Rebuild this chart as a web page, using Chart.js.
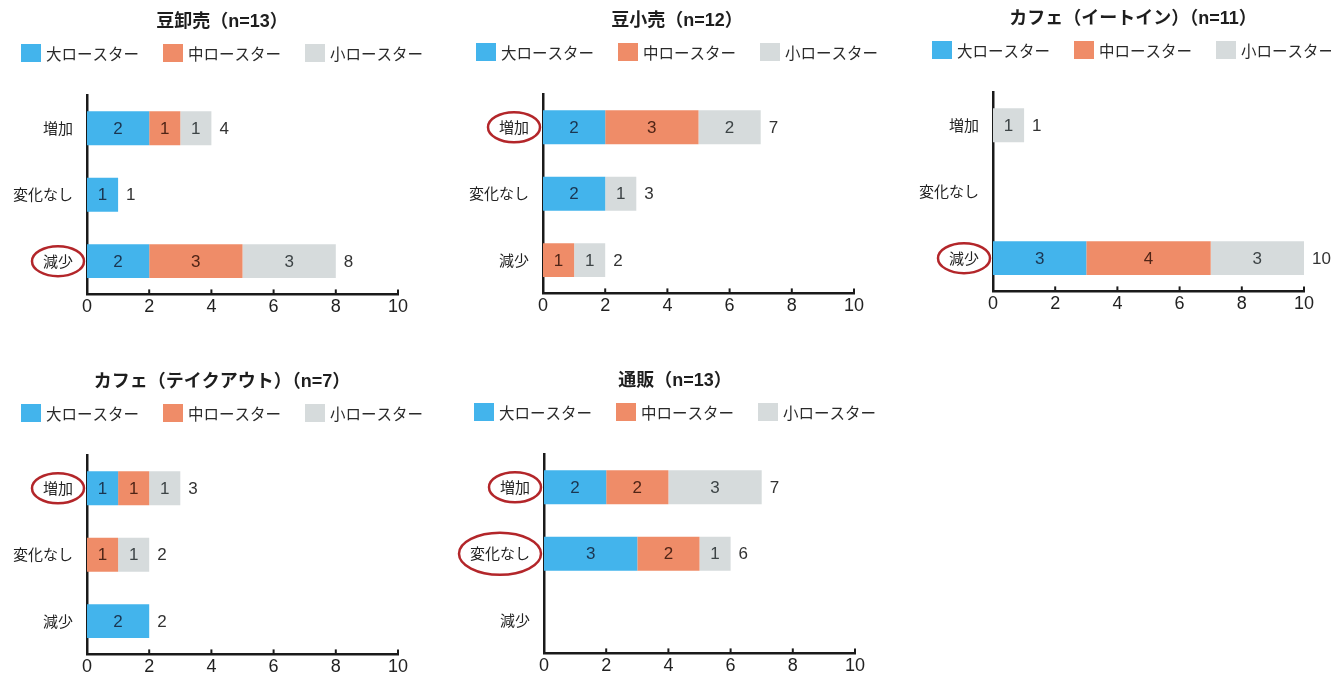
<!DOCTYPE html>
<html lang="ja">
<head>
<meta charset="utf-8">
<title>ロースター規模別の動向</title>
<script src="https://cdn.jsdelivr.net/npm/chart.js@4.4.1/dist/chart.umd.min.js"></script>
<style>
  html, body { margin: 0; padding: 0; background: #ffffff; overflow: hidden; }
  body { width: 1331px; height: 678px; position: relative; }
  canvas { position: absolute; }
</style>
</head>
<body>
<script>
// Categories, series and axis ticks
const categories = ['増加', '変化なし', '減少'];
const seriesNames = ['大ロースター', '中ロースター', '小ロースター'];
const xTicks = [0, 2, 4, 6, 8, 10];

// 豆卸売 (n=13)
const wholesaleLarge = [2, 1, 2];
const wholesaleMedium = [1, 0, 3];
const wholesaleSmall = [1, 0, 3];

// 豆小売 (n=12)
const retailLarge = [2, 2, 0];
const retailMedium = [3, 0, 1];
const retailSmall = [2, 1, 1];

// カフェ イートイン (n=11)
const eatInLarge = [0, 0, 3];
const eatInMedium = [0, 0, 4];
const eatInSmall = [1, 0, 3];

// カフェ テイクアウト (n=7)
const takeoutLarge = [1, 0, 2];
const takeoutMedium = [1, 1, 0];
const takeoutSmall = [1, 1, 0];

// 通販 (n=13)
const mailOrderLarge = [2, 3, 0];
const mailOrderMedium = [2, 2, 0];
const mailOrderSmall = [3, 1, 0];

const panelTitles = [
  '豆卸売（n=13）',
  '豆小売（n=12）',
  'カフェ（イートイン）（n=11）',
  'カフェ（テイクアウト）（n=7）',
  '通販（n=13）'
];
const circledLabels = [['減少'], ['増加'], ['減少'], ['増加'], ['増加', '変化なし']];

// Styling
const seriesColors = ['#43b4ec', '#ef8c68', '#d6dbdc'];
const valueColors = ['#1b3550', '#4f2416', '#3d4446'];
const JP = "'Noto Sans CJK JP', sans-serif";
const NUM = "'Liberation Sans', 'Noto Sans CJK JP', sans-serif";

// Panel placement on the page
const panels = [
  { large: wholesaleLarge, medium: wholesaleMedium, small: wholesaleSmall, left: 0,   top: 2,   width: 444, cx: 222 },
  { large: retailLarge,    medium: retailMedium,    small: retailSmall,    left: 456, top: 1,   width: 444, cx: 221 },
  { large: eatInLarge,     medium: eatInMedium,     small: eatInSmall,     left: 906, top: -1,  width: 425, cx: 227 },
  { large: takeoutLarge,   medium: takeoutMedium,   small: takeoutSmall,   left: 0,   top: 362, width: 444, cx: 222 },
  { large: mailOrderLarge, medium: mailOrderMedium, small: mailOrderSmall, left: 457, top: 361, width: 444, cx: 218 }
];

const AXIS_LEFT = 87;
const AXIS_RIGHT = 398;
const TITLE_Y = 20;
const LEGEND_Y = 51;

// Title and legend drawn above the plot area
const headerPlugin = {
  id: 'header',
  afterDraw(chart, args, opts) {
    const ctx = chart.ctx;
    ctx.save();
    ctx.fillStyle = '#1e1e1e';
    ctx.font = 'bold 18px ' + NUM;
    ctx.textAlign = 'center';
    ctx.textBaseline = 'middle';
    ctx.fillText(opts.title, opts.cx, TITLE_Y);

    ctx.font = '15.5px ' + JP;
    ctx.textAlign = 'left';
    const boxW = 20, boxH = 18, boxGap = 5, itemGap = 24;
    const items = chart.data.datasets.map(ds => ({
      label: ds.label, color: ds.backgroundColor, w: ctx.measureText(ds.label).width
    }));
    const total = items.reduce((s, it) => s + boxW + boxGap + it.w, 0) + itemGap * (items.length - 1);
    let x = opts.cx - total / 2;
    items.forEach(it => {
      ctx.fillStyle = it.color;
      ctx.fillRect(x, LEGEND_Y - boxH / 2, boxW, boxH);
      ctx.fillStyle = '#2a2a2a';
      ctx.fillText(it.label, x + boxW + boxGap, LEGEND_Y + 1);
      x += boxW + boxGap + it.w + itemGap;
    });
    ctx.restore();
  }
};

// Segment values, row totals, upward tick marks and circled category labels
const annotatePlugin = {
  id: 'annotate',
  afterDatasetsDraw(chart, args, opts) {
    const ctx = chart.ctx;
    const xs = chart.scales.x, ys = chart.scales.y;
    ctx.save();
    ctx.textBaseline = 'middle';

    chart.data.datasets.forEach((ds, di) => {
      const meta = chart.getDatasetMeta(di);
      meta.data.forEach((bar, i) => {
        const v = ds.data[i];
        if (!v) return;
        ctx.font = '17px ' + NUM;
        ctx.textAlign = 'center';
        ctx.fillStyle = valueColors[di];
        ctx.fillText(String(v), (bar.x + bar.base) / 2, bar.y + 1);
      });
    });

    categories.forEach((c, i) => {
      const sum = chart.data.datasets.reduce((s, ds) => s + (ds.data[i] || 0), 0);
      if (!sum) return;
      ctx.font = '17px ' + NUM;
      ctx.textAlign = 'left';
      ctx.fillStyle = '#333333';
      ctx.fillText(String(sum), xs.getPixelForValue(sum) + 8, ys.getPixelForValue(i) + 1);
    });

    ctx.strokeStyle = '#1a1a1a';
    ctx.lineWidth = 2;
    xTicks.forEach(t => {
      if (t === 0) return;
      const px = xs.getPixelForValue(t);
      ctx.beginPath();
      ctx.moveTo(px, ys.bottom);
      ctx.lineTo(px, ys.bottom - 5);
      ctx.stroke();
    });

    ctx.font = '15px ' + JP;
    ctx.strokeStyle = '#b3262a';
    ctx.lineWidth = 2.5;
    (opts.circled || []).forEach(lbl => {
      const i = categories.indexOf(lbl);
      const w = ctx.measureText(lbl).width;
      const cx = ys.right - 14 - w / 2;
      const cy = ys.getPixelForValue(i);
      const rx = w / 2 + 11;
      const ry = w < 40 ? 15 : 21;
      ctx.beginPath();
      ctx.ellipse(cx, cy, rx, ry, 0, 0, Math.PI * 2);
      ctx.stroke();
    });
    ctx.restore();
  }
};

panels.forEach((p, k) => {
  const canvas = document.createElement('canvas');
  canvas.width = p.width;
  canvas.height = 325;
  canvas.style.left = p.left + 'px';
  canvas.style.top = p.top + 'px';
  canvas.style.width = p.width + 'px';
  canvas.style.height = '325px';
  document.body.appendChild(canvas);

  const values = [p.large, p.medium, p.small];
  new Chart(canvas, {
    type: 'bar',
    data: {
      labels: categories,
      datasets: seriesNames.map((name, si) => ({
        label: name,
        data: values[si],
        backgroundColor: seriesColors[si],
        borderWidth: 0,
        barPercentage: 0.51,
        categoryPercentage: 1
      }))
    },
    plugins: [headerPlugin, annotatePlugin],
    options: {
      indexAxis: 'y',
      responsive: false,
      animation: false,
      devicePixelRatio: 1,
      layout: { padding: { top: 93, right: p.width - AXIS_RIGHT, bottom: 7, left: 0 } },
      plugins: {
        legend: { display: false },
        title: { display: false },
        tooltip: { enabled: false },
        header: { title: panelTitles[k], cx: p.cx },
        annotate: { circled: circledLabels[k] }
      },
      scales: {
        x: {
          stacked: true,
          min: 0,
          max: 10,
          afterBuildTicks: s => { s.ticks = xTicks.map(v => ({ value: v })); },
          grid: { display: false, drawTicks: false },
          border: { display: true, color: '#1a1a1a', width: 2.5 },
          ticks: { padding: 2, color: '#222222', font: { family: NUM, size: 18 }, maxRotation: 0 }
        },
        y: {
          stacked: true,
          afterFit: s => { s.width = AXIS_LEFT; },
          grid: { display: false, drawTicks: false },
          border: { display: true, color: '#1a1a1a', width: 2.5 },
          ticks: { padding: 14, color: '#222222', font: { family: JP, size: 15 } }
        }
      }
    }
  });
});
</script>
</body>
</html>
